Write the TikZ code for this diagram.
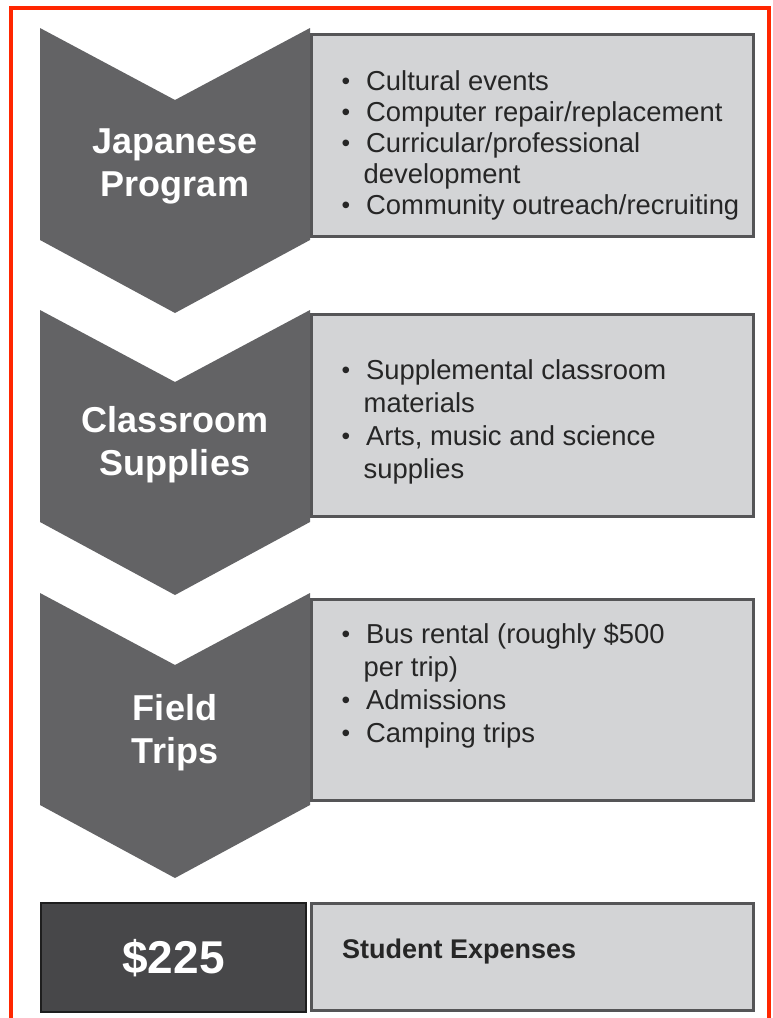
\documentclass[tikz,border=0pt]{standalone}
\usepackage{fontspec}
\setmainfont{Liberation Sans}
\usetikzlibrary{positioning}

\definecolor{chevgray}{HTML}{636365}
\definecolor{boxgray}{HTML}{D3D4D6}
\definecolor{edgegray}{HTML}{555557}
\definecolor{darkbox}{HTML}{474749}
\definecolor{darkedge}{HTML}{1E1E1E}
\definecolor{frame red}{HTML}{FF2600}

\newcommand{\bitem}{\makebox[26pt][l]{\hspace{1.5pt}\raisebox{0.8pt}{\fontsize{24.5}{24.5}\selectfont\textbullet}}}
\newcommand{\bcont}{\hspace*{23.5pt}}

\begin{document}
\begin{tikzpicture}[x=1pt,y=-1pt,
                    chevron/.style={fill=chevgray},
                    chev text/.style={text=white,align=center,anchor=base,
                                      font=\fontsize{36}{43}\selectfont\bfseries},
                    info box/.style={rectangle,draw=edgegray,fill=boxgray,line width=2.5pt,
                                     inner sep=0pt,outer sep=0pt,minimum width=442},
                    list text/.style={align=left,anchor=base west,inner sep=0pt,
                                      text=black!85}]

  \useasboundingbox (0,0) rectangle (772,1018);

  %Frame%
  \draw[frame red,line width=4pt] (11,1040) -- (11,8) -- (768.5,8) -- (768.5,1040);

  %Chevrons%
  \fill[chevron] (40,28) -- (175,100) -- (310,28) -- (310,240) -- (175,313) -- (40,240) -- cycle;
  \fill[chevron] (40,310) -- (175,382) -- (310,310) -- (310,522) -- (175,595) -- (40,522) -- cycle;
  \fill[chevron] (40,593) -- (175,665) -- (310,593) -- (310,805) -- (175,878) -- (40,805) -- cycle;

  % base = baseline of the last line
  \node[chev text] (japanese) at (175,196) {Japanese\\Program};
  \node[chev text] (classroom) at (175,475) {Classroom\\Supplies};
  \node[chev text] (field) at (175,763) {Field\\Trips};

  %Boxes%
  \node[info box,minimum height=202] (box1) at (532.5,135.5) {};
  \node[info box,minimum height=202] (box2) at (532.5,415.5) {};
  \node[info box,minimum height=201] (box3) at (532.5,700) {};
  \node[info box,minimum height=107] (box4) at (532.5,957) {};
  \node[rectangle,draw=darkedge,fill=darkbox,line width=2pt,minimum width=265,
        minimum height=109,inner sep=0pt] (total) at (173.5,957.5) {};

  %Lists%
  \node[list text,font=\fontsize{27.4}{31}\selectfont] (list1) at (340,214)
    {\bitem Cultural events\\
     \bitem Computer repair/replacement\\
     \bitem Curricular/professional\\
     \bcont development\\
     \bitem Community outreach/recruiting};
  \node[list text,font=\fontsize{27.4}{33}\selectfont] (list2) at (340,478)
    {\bitem Supplemental classroom\\
     \bcont materials\\
     \bitem Arts, music and science\\
     \bcont supplies};
  \node[list text,font=\fontsize{27.4}{33}\selectfont] (list3) at (340,742)
    {\bitem Bus rental (roughly \$500\\
     \bcont per trip)\\
     \bitem Admissions\\
     \bitem Camping trips};

  %Total%
  \node[text=white,anchor=base,font=\fontsize{46}{50}\selectfont\bfseries] (amount)
    at (total.center |- 0,973) {\$225};
  \node[list text,font=\fontsize{27}{30}\selectfont\bfseries] (expenses) at (342,958)
    {Student Expenses};
\end{tikzpicture}
\end{document}
